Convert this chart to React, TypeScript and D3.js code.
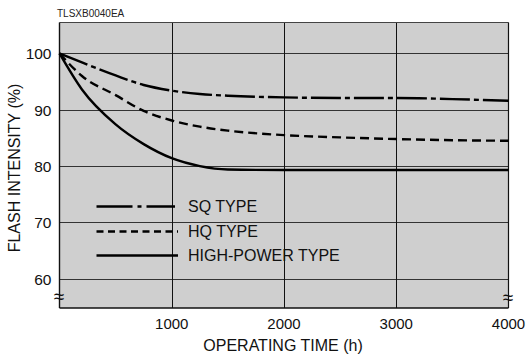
import React from "react";
import * as d3 from "d3";

// Operating time samples (h)
const hours = [0, 200, 500, 750, 1000, 1250, 1500, 2000, 2500, 3000, 3500, 4000];
// Relative flash intensity (%) for each lamp type
const sqType = [100, 98.4, 96.1, 94.4, 93.4, 92.8, 92.5, 92.2, 92.1, 92.1, 91.9, 91.6];
const hqType = [100, 96.0, 92.6, 89.8, 88.1, 87.0, 86.3, 85.5, 85.1, 84.8, 84.6, 84.5];
const highPowerType = [100, 93.6, 87.4, 83.9, 81.4, 80.0, 79.4, 79.3, 79.3, 79.3, 79.3, 79.3];

const xTicks = [1000, 2000, 3000, 4000];
const yTicks = [60, 70, 80, 90, 100];

const seriesNames = ["SQ TYPE", "HQ TYPE", "HIGH-POWER TYPE"];
const seriesData = [sqType, hqType, highPowerType];
const dashes = ["30 4 5 4", "9 5", ""];
const legendDashes = ["36 5 4 5 40", "7 4.5", ""];

const W = 526;
const H = 356;
const plot = { left: 59.5, right: 508.5, top: 22.5, bottom: 308 };
const FONT = "Liberation Sans, Arial, sans-serif";

export default function App() {
  const x = d3.scaleLinear().domain([0, 4000]).range([plot.left, plot.right]);
  const y = d3.scaleLinear().domain([54.8, 105.5]).range([plot.bottom, plot.top]);

  const line = d3
    .line<number>()
    .x((_, i) => x(hours[i]))
    .y((d) => y(d))
    .curve(d3.curveMonotoneX);

  const legendY = [206.5, 231.5, 255.5];

  return (
    <svg
      width={W}
      height={H}
      style={{ position: "absolute", left: 0, top: 0 }}
      fontFamily={FONT}
    >
      <rect width={W} height={H} fill="#ffffff" />
      <text x={57} y={16.5} fontSize={10} fill="#222">TLSXB0040EA</text>

      {/* plot area */}
      <rect
        x={plot.left}
        y={plot.top}
        width={plot.right - plot.left}
        height={plot.bottom - plot.top}
        fill="#cfcfcf"
      />

      {/* horizontal grid */}
      {yTicks.map((t) => (
        <line
          key={"h" + t}
          x1={plot.left}
          x2={plot.right}
          y1={Math.round(y(t)) + 0.5}
          y2={Math.round(y(t)) + 0.5}
          stroke="#333"
          strokeWidth={1}
        />
      ))}
      {/* vertical grid */}
      {xTicks.slice(0, 3).map((t) => (
        <line
          key={"v" + t}
          x1={Math.round(x(t)) + 0.5}
          x2={Math.round(x(t)) + 0.5}
          y1={plot.top}
          y2={plot.bottom}
          stroke="#111"
          strokeWidth={1}
        />
      ))}

      {/* frame */}
      <line x1={plot.left} x2={plot.right} y1={plot.top} y2={plot.top} stroke="#444" strokeWidth={1.2} />
      <line x1={plot.right} x2={plot.right} y1={plot.top} y2={plot.bottom} stroke="#111" strokeWidth={1.2} />
      <line x1={plot.left} x2={plot.left} y1={plot.top} y2={plot.bottom} stroke="#111" strokeWidth={1.4} />
      <line x1={plot.left} x2={plot.right} y1={plot.bottom} y2={plot.bottom} stroke="#111" strokeWidth={1.4} />

      {/* curves */}
      {seriesData.map((s, i) => (
        <path
          key={seriesNames[i]}
          d={line(s) || ""}
          fill="none"
          stroke="#000"
          strokeWidth={2.4}
          strokeDasharray={dashes[i]}
        />
      ))}

      {/* legend */}
      {seriesNames.map((n, i) => (
        <g key={"lg" + n}>
          <line
            x1={96.5}
            x2={i === 0 ? 175 : 178}
            y1={legendY[i]}
            y2={legendY[i]}
            stroke="#000"
            strokeWidth={2.4}
            strokeDasharray={legendDashes[i]}
          />
          <text x={188} y={legendY[i] + 5.5} fontSize={16} fill="#111">
            {n}
          </text>
        </g>
      ))}

      {/* y tick labels */}
      {yTicks.map((t) => (
        <text key={"yl" + t} x={51.5} y={y(t) + 5.8} fontSize={15.5} textAnchor="end" fill="#111">
          {t}
        </text>
      ))}
      {/* x tick labels */}
      {xTicks.map((t) => (
        <text key={"xl" + t} x={x(t)} y={328.5} fontSize={15} textAnchor="middle" fill="#111">
          {t}
        </text>
      ))}

      {/* axis breaks */}
      <text x={59} y={303} fontSize={19} textAnchor="middle" fill="#111">≈</text>
      <text x={508} y={304} fontSize={19} textAnchor="middle" fill="#111">≈</text>

      {/* axis titles */}
      <text x={283} y={351} fontSize={16} textAnchor="middle" fill="#111">
        OPERATING TIME (h)
      </text>
      <text
        transform="translate(19.5,168) rotate(-90)"
        fontSize={16}
        textAnchor="middle"
        fill="#111"
      >
        FLASH INTENSITY (%)
      </text>
    </svg>
  );
}
